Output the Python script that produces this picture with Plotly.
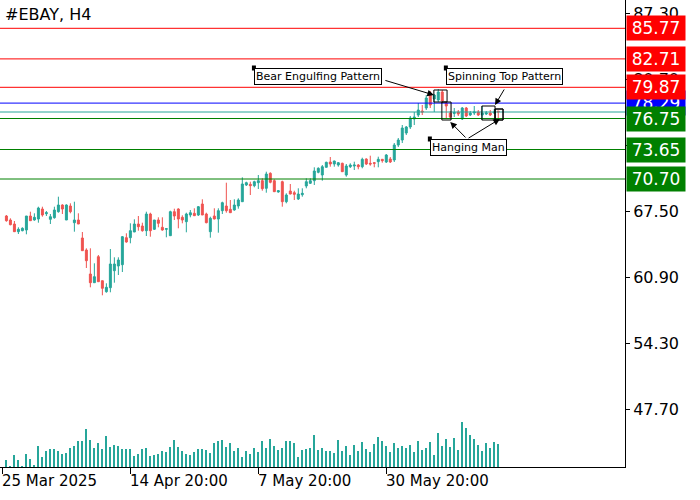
import plotly.graph_objects as go

# OHLC for the #EBAY H4 candles, left to right
opens = [67.0, 66.6, 66.2, 65.43, 65.53, 65.6, 67.0, 66.6, 66.7, 67.7, 67.23, 66.67, 66.83, 67.43, 68.1, 66.6, 68.0, 66.33, 66.6, 64.8,
         63.6, 61.2, 60.33, 62.93, 60.53, 59.43, 59.83, 61.53, 62.0, 62.13, 64.83, 64.83, 65.4, 66.2, 66.0, 65.53, 67.2, 65.67, 66.6, 65.87,
         65.67, 65.03, 67.43, 67.7, 66.87, 66.43, 67.1, 67.27, 67.1, 68.2, 67.2, 65.43, 67.0, 66.7, 67.53, 68.0, 67.67, 67.6, 68.0, 68.43,
         70.1, 70.17, 70.03, 70.33, 70.53, 69.77, 71.27, 70.53, 69.4, 70.43, 68.43, 69.5, 69.33, 68.7, 69.13, 70.0, 70.27, 70.53, 71.37, 71.1,
         71.87, 72.4, 72.2, 72.1, 72.27, 71.1, 71.93, 72.0, 72.1, 71.93, 72.7, 72.27, 72.33, 72.43, 72.67, 72.4, 72.7, 72.6, 74.1, 74.6,
         75.3, 75.9, 76.7, 77.1, 77.5, 77.8, 79.3, 78.7, 78.6, 79.4, 78.3, 77.3, 77.25, 77.4, 76.7, 77.8, 77.1, 77.3, 77.4, 77.1,
         77.2, 77.3, 77.3, 77.5]
highs = [67.1, 66.77, 66.5, 65.87, 65.87, 67.0, 67.43, 67.27, 67.93, 67.93, 67.5, 67.2, 67.93, 68.93, 68.17, 68.17, 68.27, 68.43, 67.27, 65.4,
         63.77, 63.77, 62.27, 63.1, 60.53, 60.27, 63.7, 62.87, 62.87, 65.0, 65.27, 66.27, 66.67, 67.0, 66.33, 67.43, 67.33, 66.6, 66.87, 66.87,
         65.77, 67.53, 67.73, 67.77, 67.07, 67.33, 67.6, 67.77, 68.0, 68.67, 67.33, 66.93, 67.77, 67.77, 68.43, 70.33, 68.6, 68.67, 68.77, 70.87,
         70.43, 70.43, 70.53, 71.1, 70.77, 71.43, 71.37, 70.67, 69.6, 70.53, 69.27, 70.2, 69.53, 69.77, 69.77, 70.77, 70.77, 71.87, 71.87, 72.1,
         72.43, 72.9, 72.53, 72.4, 72.33, 72.2, 72.27, 72.43, 72.2, 72.83, 72.77, 73.03, 72.4, 72.93, 72.67, 73.2, 72.9, 74.3, 74.8, 76.1,
         76.0, 77.0, 77.4, 78.3, 78.1, 79.1, 79.5, 79.2, 79.7, 79.6, 78.4, 77.5, 77.8, 77.6, 77.9, 77.9, 77.5, 78.0, 77.6, 78.0,
         77.5, 77.6, 77.7, 77.5]
lows = [66.43, 66.07, 65.4, 65.2, 65.47, 65.17, 66.5, 66.53, 66.33, 66.93, 67.0, 66.2, 66.73, 67.33, 67.2, 66.6, 67.27, 65.43, 66.2, 63.53,
        61.8, 59.87, 60.33, 60.43, 59.07, 59.33, 59.37, 60.33, 61.1, 61.4, 64.33, 64.27, 65.4, 65.53, 65.43, 65.0, 64.93, 65.6, 65.87, 65.53,
        64.87, 65.03, 66.6, 65.77, 66.27, 65.37, 66.87, 67.0, 67.0, 67.1, 66.27, 64.83, 66.67, 65.33, 67.2, 67.33, 67.33, 67.53, 67.73, 68.43,
        70.0, 69.1, 69.87, 69.7, 69.53, 69.33, 70.27, 69.43, 69.33, 67.93, 68.27, 69.17, 68.6, 68.6, 68.93, 69.77, 70.2, 70.1, 71.27, 70.53,
        71.87, 71.93, 71.93, 71.93, 71.4, 70.93, 71.8, 71.6, 71.67, 71.77, 72.1, 72.03, 71.87, 71.87, 72.33, 72.3, 72.3, 72.4, 73.9, 74.3,
        75.1, 75.7, 76.1, 76.9, 77.1, 77.6, 77.8, 77.4, 78.4, 78.3, 76.8, 76.7, 76.9, 77.0, 76.6, 76.9, 77.0, 77.1, 77.0, 76.6,
        77.1, 77.0, 77.2, 76.8]
closes = [66.53, 66.13, 65.43, 65.67, 65.77, 67.0, 66.53, 66.87, 67.8, 67.1, 67.33, 66.93, 67.6, 68.1, 67.7, 68.1, 67.43, 66.6, 66.2, 63.53,
          62.53, 60.33, 60.93, 60.43, 59.77, 59.87, 62.2, 62.2, 62.6, 64.93, 64.4, 65.53, 66.2, 65.93, 65.53, 67.2, 65.53, 66.6, 66.27, 65.6,
          65.73, 67.43, 67.0, 66.7, 66.6, 67.2, 67.33, 67.03, 67.93, 67.1, 66.33, 66.77, 66.7, 67.53, 68.33, 67.53, 67.33, 68.1, 68.6, 70.2,
          70.33, 70.03, 70.43, 70.53, 69.73, 71.2, 70.37, 69.43, 69.53, 68.43, 69.1, 69.2, 69.17, 69.2, 69.27, 70.43, 70.53, 71.5, 71.77, 71.93,
          72.37, 72.2, 72.5, 72.33, 71.43, 72.0, 72.1, 72.1, 71.93, 72.67, 72.2, 72.2, 72.27, 72.67, 72.53, 73.1, 72.4, 74.1, 74.6, 75.8,
          75.9, 76.8, 76.9, 77.6, 77.4, 78.8, 78.1, 79.1, 79.4, 78.5, 78.0, 76.9, 77.35, 77.2, 77.8, 77.0, 77.3, 77.4, 77.1, 77.3,
          77.3, 77.1, 77.4, 77.4]
volumes = [20, 2, 35, 20, 2, 38, 23, 3, 62, 30, 47, 53, 53, 47, 40, 42, 56, 62, 78, 77, 113, 80, 56, 71, 53, 92, 59, 65, 62, 53,
           53, 53, 32, 38, 53, 56, 32, 35, 38, 49, 44, 59, 80, 59, 47, 38, 36, 44, 53, 53, 50, 41, 71, 77, 80, 59, 71, 47, 56, 29,
           47, 38, 56, 46, 77, 57, 83, 63, 50, 56, 76, 77, 71, 30, 50, 53, 56, 95, 50, 56, 47, 49, 42, 80, 47, 62, 35, 65, 47, 75,
           53, 44, 68, 89, 77, 62, 44, 71, 56, 62, 56, 65, 44, 77, 50, 56, 74, 35, 101, 62, 83, 59, 86, 50, 134, 116, 95, 83, 65, 47,
           71, 56, 74, 68]
xtick_idx = [-1, 31, 63, 95]
xtick_text = ["25 Mar 2025", "14 Apr 20:00", "7 May 20:00", "30 May 20:00"]
ytick_vals = [87.30, 80.70, 74.10, 67.50, 60.90, 54.30, 47.70]
levels_red = [85.77, 82.71, 79.87]
levels_green = [76.75, 73.65, 70.70]
bid_level = 78.29
last_level = 77.4

idx = list(range(len(opens)))
UP, DOWN = "#26a69a", "#ef5350"
FONT = "DejaVu Sans"

fig = go.Figure()
fig.add_trace(go.Bar(x=idx, y=volumes, width=0.25, marker_color=UP, marker_line_width=0,
                     yaxis="y2", showlegend=False, hoverinfo="skip"))
fig.add_trace(go.Candlestick(x=idx, open=opens, high=highs, low=lows, close=closes,
                             increasing=dict(line=dict(color=UP, width=1), fillcolor=UP),
                             decreasing=dict(line=dict(color=DOWN, width=1), fillcolor=DOWN),
                             whiskerwidth=0, showlegend=False))

# horizontal levels
for v in levels_red:
    fig.add_hline(y=v, line=dict(color="red", width=1))
for v in levels_green:
    fig.add_hline(y=v, line=dict(color="green", width=1))
fig.add_hline(y=bid_level, line=dict(color="blue", width=1))
fig.add_hline(y=last_level, line=dict(color=UP, width=1))

# price boxes on the right axis
def price_box(v, color, text=None):
    fig.add_annotation(x=1.0, xref="paper", xanchor="left", xshift=1, y=v, yref="y",
                       text=text or f"{v:.2f}", showarrow=False, bgcolor=color,
                       font=dict(color="white", size=17, family=FONT), borderpad=2, width=54)

price_box(bid_level, "blue")
for v in levels_red:
    price_box(v, "red")
for v in levels_green:
    price_box(v, "green")

# pattern labels
def label(x, y, text):
    fig.add_annotation(x=x, y=y, text=text, showarrow=False, xanchor="left", yanchor="top",
                       bgcolor="white", bordercolor="black", borderwidth=1, borderpad=1,
                       font=dict(size=11, family=FONT, color="black"))
    fig.add_shape(type="rect", x0=x - 0.5, x1=x + 0.5, y0=y - 0.25, y1=y + 0.25,
                  fillcolor="black", line_width=0)

def arrow(x0, y0, x1, y1):
    fig.add_annotation(x=x1, y=y1, ax=x0, ay=y0, axref="x", ayref="y", text="",
                       showarrow=True, arrowhead=2, arrowsize=1.3, arrowwidth=1, arrowcolor="black")

def box(x0, x1, y0, y1):
    fig.add_shape(type="rect", x0=x0, x1=x1, y0=y0, y1=y1, line=dict(color="black", width=1))

label(61.9, 81.8, "Bear Engulfing Pattern")
label(109.9, 81.8, "Spinning Top Pattern")
label(105.9, 74.7, "Hanging Man")
box(106.9, 110.2, 78.4, 79.6)
box(108.9, 111.2, 76.6, 78.4)
box(118.9, 122.2, 76.6, 78.0)
box(122.2, 124.2, 76.6, 77.7)
arrow(94.4, 80.6, 106.9, 79.1)
arrow(124.7, 79.8, 122.2, 78.1)
arrow(115.2, 74.7, 111.0, 76.4)
arrow(115.2, 74.7, 123.4, 76.7)

fig.add_annotation(x=0, y=1, xref="paper", yref="paper", xanchor="left", yanchor="top",
                   xshift=3, yshift=-3, text="#EBAY, H4", showarrow=False,
                   font=dict(size=16, family=FONT, color="black"))
for i, t in zip(xtick_idx, xtick_text):
    fig.add_annotation(x=i, y=0, yref="paper", xanchor="left", yanchor="top", yshift=-3, xshift=-2,
                       text=t, showarrow=False, font=dict(size=15, family=FONT, color="black"))

fig.update_layout(
    width=700, height=500, margin=dict(l=0, r=75, t=0, b=33, autoexpand=False),
    paper_bgcolor="white", plot_bgcolor="white",
    xaxis=dict(range=[-1.6, 154.7], rangeslider=dict(visible=False), showgrid=False, zeroline=False,
               tickvals=xtick_idx, ticktext=[""] * len(xtick_idx), ticks="outside", ticklen=6,
               tickcolor="black", showline=True, linecolor="black", linewidth=1, mirror=False),
    yaxis=dict(range=[41.9, 88.6], side="right", showgrid=False, zeroline=False,
               tickvals=ytick_vals, ticktext=[f"{v:.2f}" for v in ytick_vals], ticks="outside",
               ticklen=4, tickcolor="black", showline=True, linecolor="black", linewidth=1,
               tickfont=dict(size=16, family=FONT, color="black")),
    yaxis2=dict(range=[0, 1390], overlaying="y", visible=False),
    shapes=[dict(type="line", xref="paper", yref="paper", x0=0.003, x1=0.003, y0=0, y1=1,
                 line=dict(color="black", width=1))] + list(fig.layout.shapes),
    bargap=0,
)
fig.write_html("out.html", config={"displayModeBar": False},
               post_script="document.body.style.margin='0px';")
